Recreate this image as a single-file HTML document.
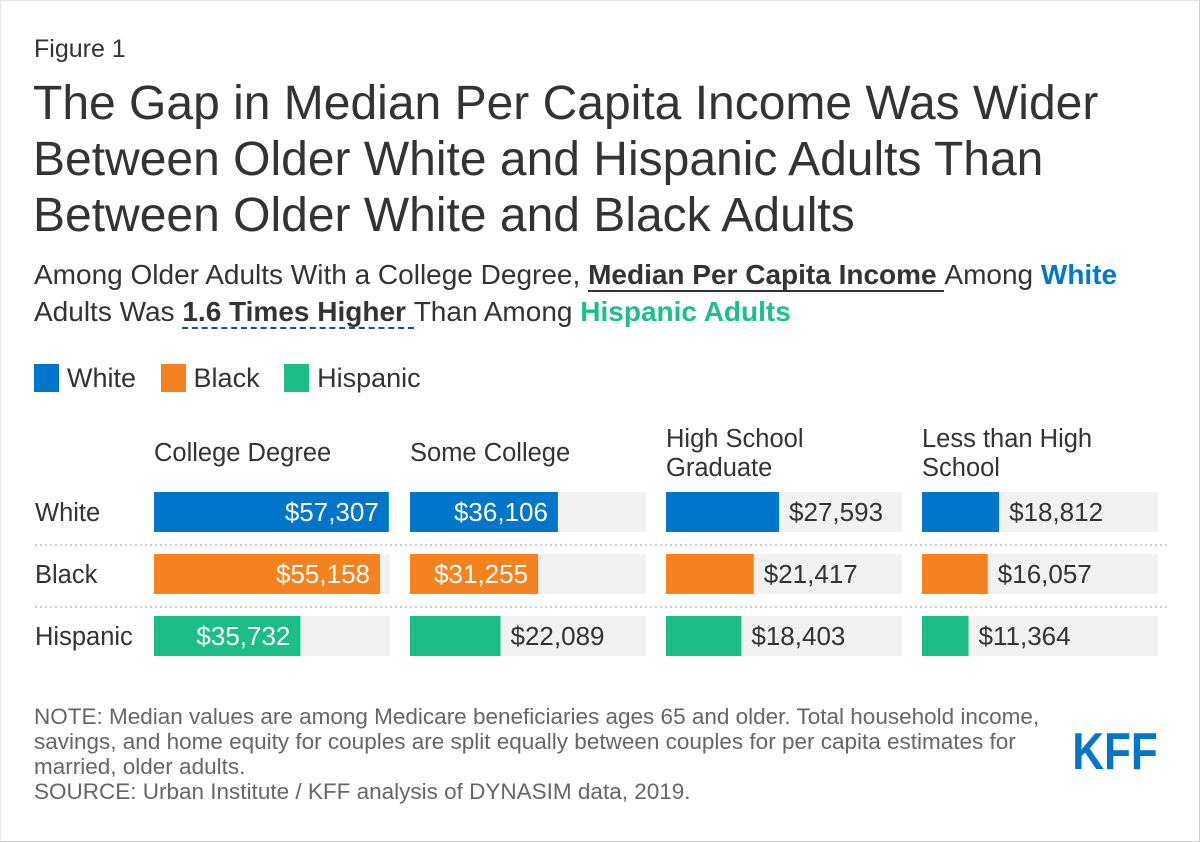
<!DOCTYPE html>
<html><head><meta charset="utf-8"><style>
body{margin:0;background:#fff;}
#root{position:relative;width:1198px;height:840px;border:1px solid #cfcfcf;border-top:1px solid #e6e6e6;border-left:1px solid #e6e6e6;background:#fff;font-family:"Liberation Sans",Arial,sans-serif;color:#333;overflow:hidden}
.abs{position:absolute;white-space:nowrap}
</style></head><body>
<div id="root">
<div class="abs" style="left:33px;top:34px;font-size:25px;color:#333">Figure 1</div>
<div class="abs" style="left:32px;top:75px;font-size:48px;line-height:56px;color:#333">The Gap in Median Per Capita Income Was Wider<br>Between Older White and Hispanic Adults Than<br>Between Older White and Black Adults</div>
<div class="abs" style="left:33px;top:255px;font-size:28px;line-height:37px;color:#333">Among Older Adults With a College Degree, <b style="border-bottom:2px solid #333">Median Per Capita Income </b> Among <b style="color:#0077c8">White</b><br>Adults Was <b style="border-bottom:2px dashed #1f4e79">1.6 Times Higher </b> Than Among <b style="color:#1cbf8a">Hispanic Adults</b></div>
<div class="abs" style="left:33px;top:362px;font-size:27px">
<span><span style="display:inline-block;width:25px;height:28px;background:#0075c9;vertical-align:-5px;margin-right:8px"></span>White</span>
<span style="margin-left:17px"><span style="display:inline-block;width:25px;height:28px;background:#f58220;vertical-align:-5px;margin-right:8px"></span>Black</span>
<span style="margin-left:17px"><span style="display:inline-block;width:25px;height:28px;background:#1dbd88;vertical-align:-5px;margin-right:8px"></span>Hispanic</span>
</div>
<svg id="chart" class="abs" style="left:0;top:0" width="1198" height="840"></svg>
<div class="abs" style="left:33px;top:703px;font-size:22.5px;line-height:25px;color:#666">NOTE: Median values are among Medicare beneficiaries ages 65 and older. Total household income,<br>savings, and home equity for couples are split equally between couples for per capita estimates for<br>married, older adults.<br>SOURCE: Urban Institute / KFF analysis of DYNASIM data, 2019.</div>
<svg class="abs" style="left:1068px;top:726px" width="100" height="50"><text x="4" y="44" font-family="Liberation Sans, sans-serif" font-weight="bold" font-size="55" fill="#0075c9" transform="scale(0.8,0.95)">KFF</text></svg>
</div>
<script>
const categories = ["College Degree","Some College","High School Graduate","Less than High School"];
const groups = ["White","Black","Hispanic"];
const whiteValues = [57307,36106,27593,18812];
const blackValues = [55158,31255,21417,16057];
const hispanicValues = [35732,22089,18403,11364];
const colors = ["#0075c9","#f58220","#1dbd88"];
const series=[whiteValues,blackValues,hispanicValues];
const svg=document.getElementById('chart');
const NS='http://www.w3.org/2000/svg';
const panelX=[153,409,665,921], panelW=236, rowY=[491,553,615], barH=40, maxV=57600;
const x=v=>v/maxV*panelW;
function mk(t,a){const e=document.createElementNS(NS,t);for(const k in a)e.setAttribute(k,a[k]);svg.appendChild(e);return e;}
const headLines=[["College Degree"],["Some College"],["High School","Graduate"],["Less than High","School"]];
categories.forEach((c,i)=>{
  const lines=headLines[i];
  lines.forEach((l,j)=>{
    const t=mk('text',{x:panelX[i],y:(lines.length===1?460:446+j*29),'font-size':25.5,fill:'#333','font-family':'Liberation Sans, sans-serif'});
    t.textContent=l;
    
    
  });
});
groups.forEach((g,r)=>{
  const t=mk('text',{x:34,y:rowY[r]+29,'font-size':25.5,fill:'#333','font-family':'Liberation Sans, sans-serif'});
  t.textContent=g;
  
  
  if(r>0){
    const ln=mk('line',{x1:34,x2:1166,y1:rowY[r]-9,y2:rowY[r]-9,stroke:'#ccc','stroke-width':2,'stroke-dasharray':'2,3'});
    
    
  }
  series[r].forEach((v,i)=>{
    const bg=mk('rect',{x:panelX[i],y:rowY[r],width:panelW,height:barH,fill:'#f2f2f2'});
    
    
    const w=x(v);
    const b=mk('rect',{x:panelX[i],y:rowY[r],width:w,height:barH,fill:colors[r]});
    
    
    const inside=w>120;
    const lbl=mk('text',{x:inside?panelX[i]+w-10:panelX[i]+w+10,y:rowY[r]+29,'font-size':26,fill:inside?'#fff':'#333','text-anchor':inside?'end':'start','font-family':'Liberation Sans, sans-serif'});
    lbl.textContent='$'+v.toLocaleString('en-US');
    
    
  });
});
</script>
</body></html>
